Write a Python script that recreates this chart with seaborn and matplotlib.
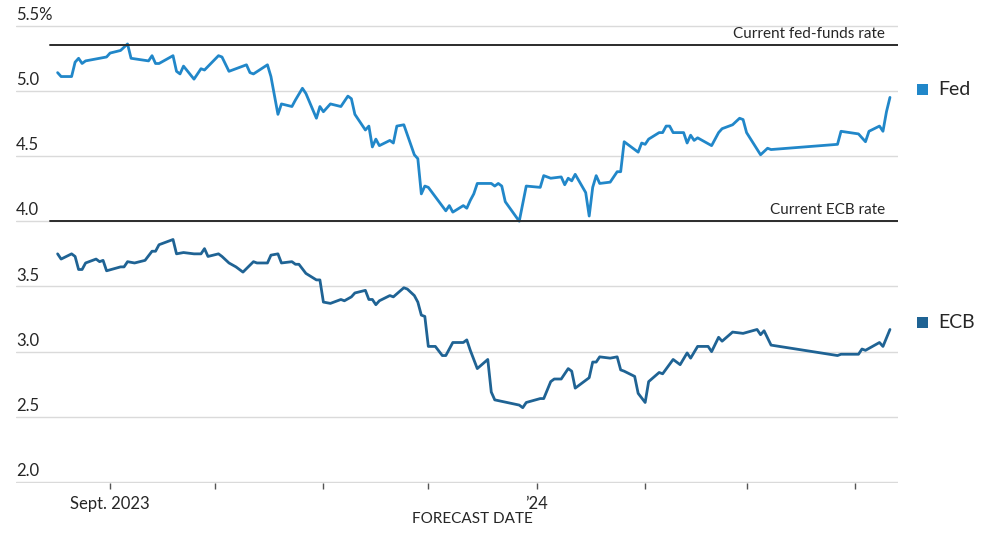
import pandas as pd
import seaborn as sns
import matplotlib.pyplot as plt
from matplotlib.patches import Rectangle
from matplotlib.transforms import blended_transform_factory

sns.set_style('white')
plt.rcParams['font.family'] = ['Lato', 'DejaVu Sans']

# data: forecast date as days since 2023-09-01, implied year-end rate in %
start = pd.Timestamp('2023-09-01')

fed_days = [-15, -14, -11, -10, -9, -8, -7, -3, -1, 0,
            3, 5, 6, 11, 12, 13, 14, 18, 19, 20,
            21, 24, 26, 27, 31, 32, 34, 39, 40, 41,
            45, 46, 48, 49, 52, 53, 55, 56, 59, 60,
            61, 63, 66, 68, 69, 70, 73, 74, 75, 76,
            77, 80, 81, 82, 84, 87, 88, 89, 90, 91,
            96, 97, 98, 101, 102, 103, 104, 105, 109, 110,
            111, 112, 113, 117, 119, 123, 124, 126, 129, 130,
            131, 132, 133, 136, 137, 138, 139, 140, 143, 145,
            146, 147, 151, 152, 153, 154, 157, 158, 159, 160,
            161, 164, 165, 166, 167, 168, 172, 174, 175, 178,
            180, 181, 182, 186, 188, 189, 208, 209, 214, 216,
            217, 220, 221, 222, 223]
fed_rates = [5.14, 5.11, 5.11, 5.22, 5.25, 5.21, 5.23, 5.25, 5.26, 5.29,
             5.31, 5.36, 5.25, 5.23, 5.27, 5.21, 5.21, 5.27, 5.15, 5.13,
             5.19, 5.09, 5.17, 5.16, 5.27, 5.26, 5.15, 5.20, 5.14, 5.13,
             5.20, 5.11, 4.82, 4.90, 4.88, 4.93, 5.02, 4.98, 4.79, 4.88,
             4.84, 4.90, 4.88, 4.96, 4.94, 4.82, 4.70, 4.73, 4.57, 4.63,
             4.58, 4.62, 4.60, 4.73, 4.74, 4.51, 4.48, 4.21, 4.27, 4.26,
             4.08, 4.12, 4.07, 4.12, 4.10, 4.16, 4.21, 4.29, 4.29, 4.27,
             4.29, 4.27, 4.15, 4.00, 4.27, 4.26, 4.35, 4.33, 4.34, 4.28,
             4.33, 4.31, 4.36, 4.22, 4.04, 4.26, 4.35, 4.29, 4.30, 4.38,
             4.38, 4.61, 4.53, 4.60, 4.59, 4.63, 4.68, 4.68, 4.73, 4.73,
             4.68, 4.68, 4.60, 4.66, 4.62, 4.64, 4.58, 4.68, 4.71, 4.74,
             4.79, 4.78, 4.68, 4.51, 4.56, 4.55, 4.59, 4.69, 4.67, 4.61,
             4.69, 4.73, 4.69, 4.84, 4.95]

ecb_days = [-15, -14, -11, -10, -9, -8, -7, -4, -3, -2,
            -1, 3, 4, 5, 7, 10, 12, 13, 14, 16,
            18, 19, 21, 24, 26, 27, 28, 31, 32, 34,
            36, 38, 41, 42, 45, 46, 48, 49, 52, 53,
            54, 56, 59, 60, 61, 63, 66, 67, 69, 70,
            73, 74, 75, 76, 77, 80, 81, 84, 85, 87,
            88, 89, 90, 91, 93, 95, 96, 98, 101, 102,
            103, 105, 108, 109, 110, 117, 118, 119, 123, 124,
            126, 127, 129, 131, 132, 133, 137, 138, 139, 140,
            143, 145, 146, 147, 150, 151, 153, 154, 157, 158,
            161, 163, 165, 166, 168, 171, 172, 174, 175, 178,
            181, 185, 186, 187, 189, 208, 209, 214, 215, 216,
            220, 221, 223]
ecb_rates = [3.75, 3.71, 3.75, 3.73, 3.63, 3.63, 3.68, 3.71, 3.69, 3.70,
             3.62, 3.65, 3.65, 3.69, 3.68, 3.70, 3.77, 3.77, 3.82, 3.84,
             3.86, 3.75, 3.76, 3.75, 3.75, 3.79, 3.73, 3.75, 3.73, 3.68,
             3.65, 3.61, 3.69, 3.68, 3.68, 3.74, 3.75, 3.68, 3.69, 3.67,
             3.67, 3.60, 3.55, 3.55, 3.38, 3.37, 3.40, 3.39, 3.42, 3.45,
             3.47, 3.40, 3.40, 3.36, 3.39, 3.43, 3.42, 3.49, 3.48, 3.43,
             3.38, 3.28, 3.27, 3.04, 3.04, 2.97, 2.97, 3.07, 3.07, 3.09,
             3.01, 2.87, 2.94, 2.69, 2.63, 2.59, 2.57, 2.61, 2.64, 2.64,
             2.77, 2.79, 2.79, 2.87, 2.85, 2.72, 2.80, 2.92, 2.92, 2.96,
             2.95, 2.96, 2.86, 2.85, 2.81, 2.68, 2.61, 2.77, 2.84, 2.83,
             2.94, 2.90, 2.99, 2.95, 3.04, 3.04, 3.00, 3.11, 3.08, 3.15,
             3.14, 3.17, 3.13, 3.16, 3.05, 2.97, 2.98, 2.98, 3.02, 3.01,
             3.07, 3.04, 3.17]

fed_now = 5.35
ecb_now = 4.0
ytick_vals = [2.0, 2.5, 3.0, 3.5, 4.0, 4.5, 5.0, 5.5]
ytick_labels = ['2.0', '2.5', '3.0', '3.5', '4.0', '4.5', '5.0', '5.5%']
month_starts = pd.date_range('2023-09-01', '2024-04-01', freq='MS')
month_labels = {'2023-09': 'Sept. 2023', '2024-01': '\u201924'}

fed_color = '#2187c9'
ecb_color = '#1f6394'
text_color = '#262626'

df = pd.concat([
    pd.DataFrame({'date': start + pd.to_timedelta(fed_days, unit='D'),
                  'rate': fed_rates, 'bank': 'Fed'}),
    pd.DataFrame({'date': start + pd.to_timedelta(ecb_days, unit='D'),
                  'rate': ecb_rates, 'bank': 'ECB'}),
], ignore_index=True)

fig = plt.figure(figsize=(9.81, 5.36), dpi=100)
ax = fig.add_axes([0.0163, 0.0983, 0.8991, 0.8562])

sns.lineplot(data=df, x='date', y='rate', hue='bank',
             palette={'Fed': fed_color, 'ECB': ecb_color},
             linewidth=2, legend=False, ax=ax)

ax.set_xlim(start - pd.Timedelta(days=26.9), start + pd.Timedelta(days=225.3))
ax.set_ylim(1.99, 5.51)

# gridlines + labels sitting on top of them
ax.set_yticks(ytick_vals)
ax.yaxis.grid(True, color='#dadada', lw=1)
ax.xaxis.grid(False)
ax.tick_params(axis='y', length=0, labelleft=False)
for s in ax.spines.values():
    s.set_visible(False)

blend = blended_transform_factory(ax.transAxes, ax.transData)
for v, lab in zip(ytick_vals, ytick_labels):
    ax.annotate(lab, xy=(0, v), xycoords=blend, xytext=(0, 2),
                textcoords='offset points', ha='left', va='bottom',
                fontsize=12, color=text_color)

# x ticks
ax.set_xticks(month_starts)
ax.set_xticklabels([month_labels.get(d.strftime('%Y-%m'), '') for d in month_starts])
ax.tick_params(axis='x', length=4, width=1, color='#555555', pad=5,
               labelsize=12, labelcolor=text_color, bottom=True)
ax.set_xlabel('')
ax.set_ylabel('')

# current policy rates
ax.axhline(fed_now, xmin=0.0385, xmax=1, color='#2b2b2b', lw=1.4)
ax.axhline(ecb_now, xmin=0.0385, xmax=1, color='#2b2b2b', lw=1.4)
ax.annotate('Current fed-funds rate', xy=(0.985, fed_now), xycoords=blend,
            xytext=(0, 3), textcoords='offset points', ha='right', va='bottom',
            fontsize=11, color=text_color)
ax.annotate('Current ECB rate', xy=(0.985, ecb_now), xycoords=blend,
            xytext=(0, 3), textcoords='offset points', ha='right', va='bottom',
            fontsize=11, color=text_color)

# legend on the right
for name, col, yc in [('Fed', fed_color, 89), ('ECB', ecb_color, 322)]:
    fig.add_artist(Rectangle((917 / 981, 1 - (yc + 6) / 536), 11 / 981, 11 / 536,
                             transform=fig.transFigure, color=col, lw=0))
    fig.text(938 / 981, 1 - yc / 536, name, ha='left', va='center',
             fontsize=14, color=text_color)

fig.text(472 / 981, 1 - 519 / 536, 'FORECAST DATE', ha='center', va='center',
         fontsize=11, color=text_color)

fig.savefig('out.png', dpi=100)
